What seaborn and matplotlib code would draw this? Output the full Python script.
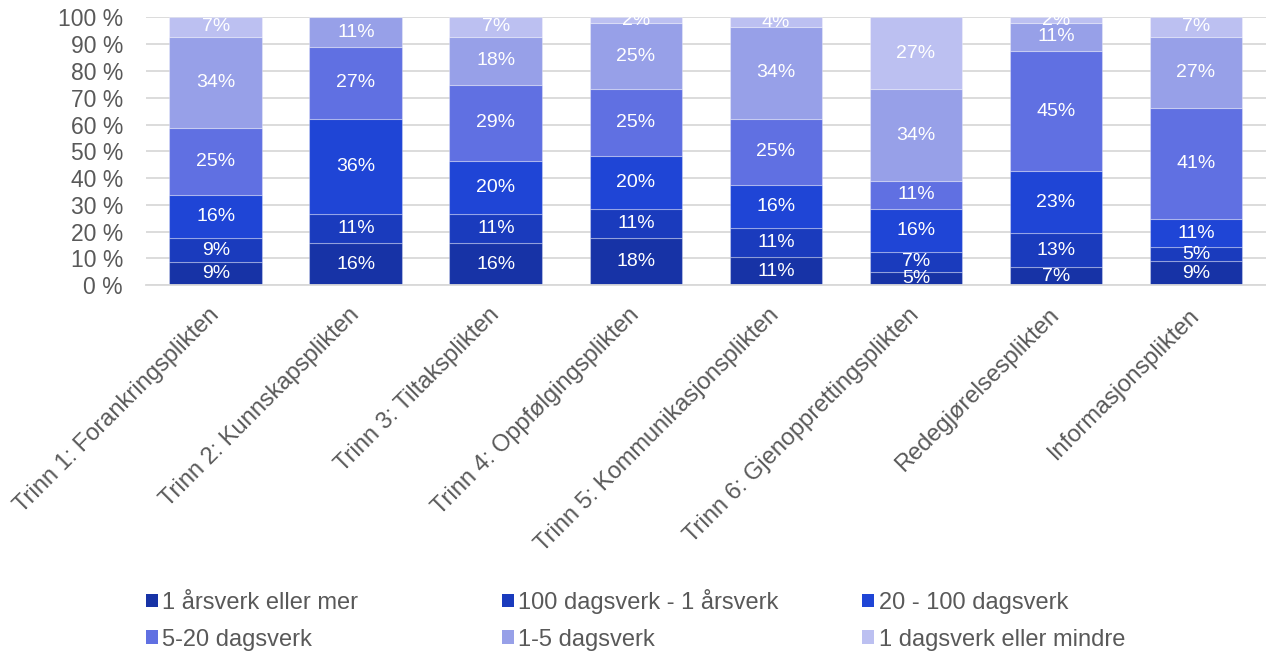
import matplotlib
matplotlib.use("Agg")
import matplotlib.pyplot as plt
from matplotlib.patches import Patch
import numpy as np
import seaborn as sns

# Categories on the x axis
categories = [
    "Trinn 1: Forankringsplikten",
    "Trinn 2: Kunnskapsplikten",
    "Trinn 3: Tiltaksplikten",
    "Trinn 4: Oppfølgingsplikten",
    "Trinn 5: Kommunikasjonsplikten",
    "Trinn 6: Gjenopprettingsplikten",
    "Redegjørelsesplikten",
    "Informasjonsplikten",
]

series_names = [
    "1 årsverk eller mer",
    "100 dagsverk - 1 årsverk",
    "20 - 100 dagsverk",
    "5-20 dagsverk",
    "1-5 dagsverk",
    "1 dagsverk eller mindre",
]

# Shares in percent (bottom to top)
aarsverk_1 = [8.6, 15.7, 15.7, 17.6, 10.6, 5.1, 6.7, 8.9]
dagsverk_100_aar = [8.9, 10.8, 10.8, 10.8, 10.7, 7.2, 12.7, 5.3]
dagsverk_20_100 = [16.2, 35.5, 19.8, 19.7, 16.0, 16.1, 23.2, 10.6]
dagsverk_5_20 = [25.1, 27.0, 28.6, 25.0, 24.9, 10.6, 44.8, 41.2]
dagsverk_1_5 = [34.0, 11.0, 17.9, 24.9, 34.2, 34.1, 10.6, 26.8]
dagsverk_under_1 = [7.2, 0.0, 7.2, 2.0, 3.6, 26.9, 2.0, 7.2]

colors = ["#1733A6", "#1A3BBD", "#1F45D6", "#6070E2", "#97A0E8", "#BCC0F1"]

series = [
    aarsverk_1,
    dagsverk_100_aar,
    dagsverk_20_100,
    dagsverk_5_20,
    dagsverk_1_5,
    dagsverk_under_1,
]

sns.set_theme(style="white")
plt.rcParams["font.family"] = ["Liberation Sans", "DejaVu Sans"]
text_color = "#595959"

fig = plt.figure(figsize=(12.66, 6.54), dpi=100)
ax = fig.add_axes([0.1153, 0.5638, 0.8847, 0.4097])

bottom = np.zeros(len(categories))
for name, vals, col in zip(series_names, series, colors):
    vals = np.array(vals)
    sns.barplot(
        x=categories,
        y=vals,
        bottom=bottom,
        color=col,
        saturation=1,
        width=0.664,
        errorbar=None,
        edgecolor=(1, 1, 1, 0.3),
        linewidth=0.8,
        ax=ax,
    )
    labels = [f"{v:.0f}%" if v > 0 else "" for v in vals]
    ax.bar_label(
        ax.containers[-1],
        labels=labels,
        label_type="center",
        color="white",
        fontsize=14,
        clip_on=True,
    )
    bottom = bottom + vals

ax.set_ylim(0, 100)
ax.set_xlim(-0.5, len(categories) - 0.5)
ax.set_yticks(range(0, 101, 10))
ax.set_yticklabels([f"{t} %" for t in range(0, 101, 10)])
ax.yaxis.grid(True, color="#D9D9D9", linewidth=1.3)
ax.set_axisbelow(True)
for side in ["top", "right", "left"]:
    ax.spines[side].set_visible(False)
ax.spines["bottom"].set_color("#D9D9D9")
ax.spines["bottom"].set_linewidth(1.3)
ax.tick_params(axis="y", length=0, pad=16.5, labelsize=16.5, labelcolor=text_color)
ax.tick_params(axis="x", length=0, pad=19, labelsize=17, labelcolor=text_color)
ax.set_xlabel("")
ax.set_ylabel("")
for lab in ax.get_xticklabels():
    lab.set_rotation(45)
    lab.set_ha("right")
    lab.set_va("center")
    lab.set_rotation_mode("anchor")

# Legend: three columns of two rows, filled row-wise
col_x = [0.1153, 0.3965, 0.681]
col_y = [0.095, 0.0995, 0.095]
for i, (x, y) in enumerate(zip(col_x, col_y)):
    handles = [
        Patch(facecolor=colors[i], edgecolor="none", label=series_names[i]),
        Patch(facecolor=colors[i + 3], edgecolor="none", label=series_names[i + 3]),
    ]
    fig.legend(
        handles=handles,
        loc="upper left",
        bbox_to_anchor=(x, y),
        frameon=False,
        fontsize=17,
        labelcolor=text_color,
        handlelength=0.5,
        handleheight=0.5,
        handletextpad=0.2,
        labelspacing=0.62,
        borderpad=0,
        borderaxespad=0,
    )

fig.savefig("out.png", dpi=100)
